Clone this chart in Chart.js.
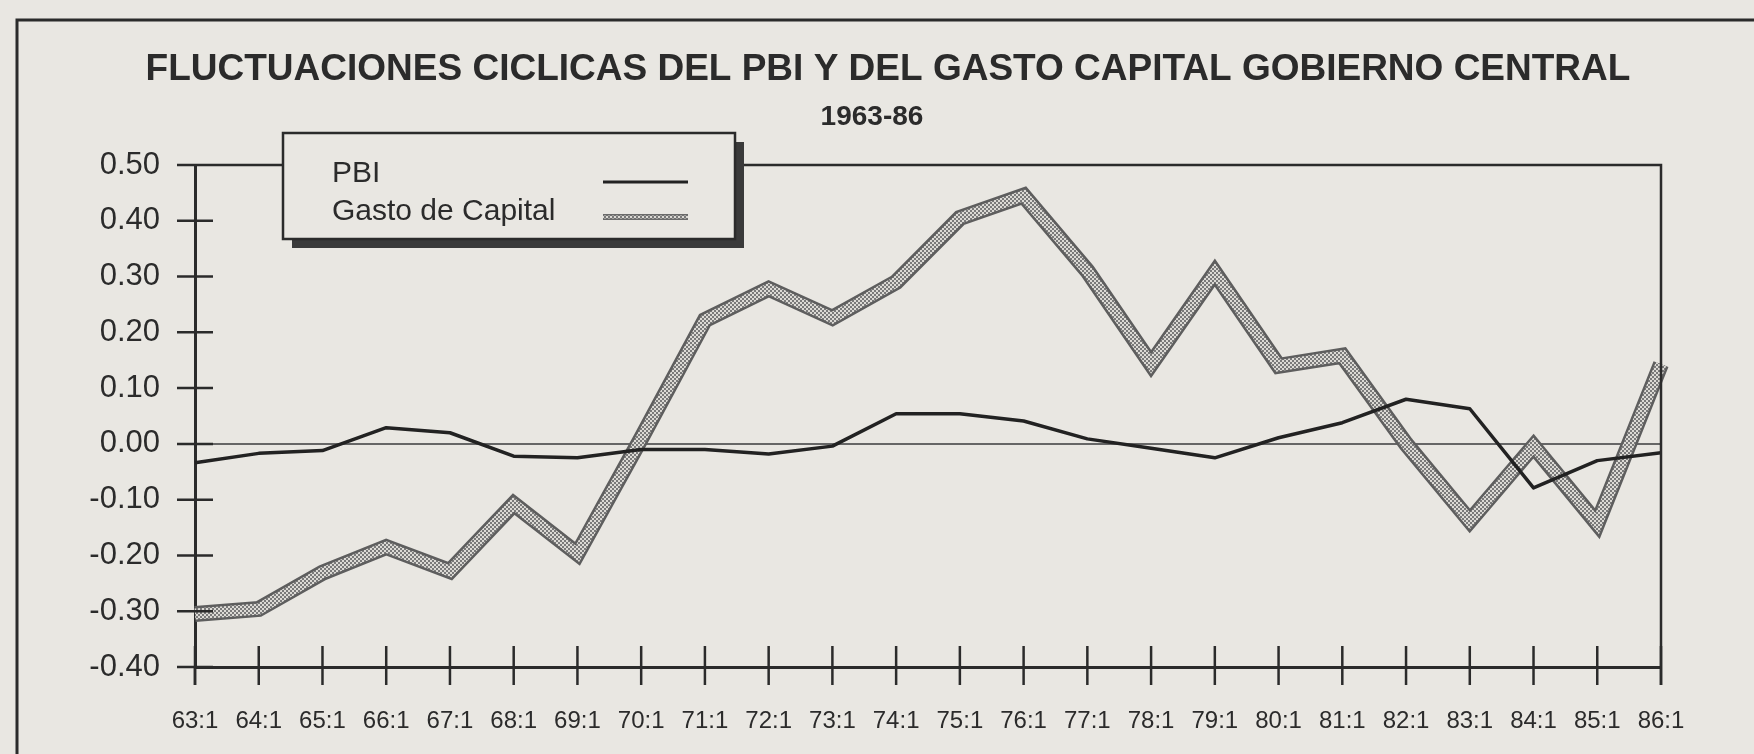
<!DOCTYPE html>
<html>
<head>
<meta charset="utf-8">
<script src="https://cdn.jsdelivr.net/npm/chart.js@4/dist/chart.umd.min.js"></script>
<style>
  html, body { margin: 0; padding: 0; background: #e9e7e2; }
  canvas { display: block; }
</style>
</head>
<body>
<canvas id="ciclos" width="1754" height="754"></canvas>
<script>
// datos (valores anuales, primer trimestre)
const periodos = ['63:1', '64:1', '65:1', '66:1', '67:1', '68:1', '69:1', '70:1', '71:1', '72:1', '73:1', '74:1',
                  '75:1', '76:1', '77:1', '78:1', '79:1', '80:1', '81:1', '82:1', '83:1', '84:1', '85:1', '86:1'];
const pbi = [-0.034, -0.017, -0.012, 0.029, 0.020, -0.022, -0.025, -0.010, -0.010, -0.018, -0.004, 0.054,
             0.054, 0.041, 0.009, -0.008, -0.025, 0.011, 0.038, 0.080, 0.063, -0.079, -0.030, -0.016];
const gastoCapital = [-0.305, -0.296, -0.231, -0.185, -0.228, -0.108, -0.197, 0.010, 0.222, 0.278, 0.226, 0.290,
                      0.405, 0.445, 0.310, 0.143, 0.307, 0.140, 0.158, 0.000, -0.138, -0.004, -0.143, 0.143];
const yMin = -0.4, yMax = 0.5, yStep = 0.1;
const titulo = 'FLUCTUACIONES CICLICAS DEL PBI Y DEL GASTO CAPITAL GOBIERNO CENTRAL';
const subtitulo = '1963-86';

const PAPER = '#e9e7e2';
const INK = '#2b2b2b';
const SANS = '"Liberation Sans", Arial, Helvetica, sans-serif';

const ctx = document.getElementById('ciclos').getContext('2d');

// trama cuadriculada gris para la linea del gasto
function trama() {
    const c = document.createElement('canvas');
    c.width = 4; c.height = 4;
    const g = c.getContext('2d');
    g.fillStyle = '#dcdad5';
    g.fillRect(0, 0, 4, 4);
    g.fillStyle = '#7a7a7a';
    g.fillRect(0, 0, 2, 2);
    g.fillRect(2, 2, 2, 2);
    return ctx.createPattern(c, 'repeat');
}
const gastoTrama = trama();

// contorno oscuro de la banda del gasto, sobre los puntos que calcula la escala
const contorno = {
    id: 'contorno',
    beforeDatasetDraw(chart, args) {
        if (args.index !== 1) return;
        const pts = args.meta.data;
        const c = chart.ctx;
        c.save();
        c.strokeStyle = '#5e5e5e';
        c.lineWidth = 16;
        c.lineJoin = 'miter';
        c.beginPath();
        pts.forEach((p, i) => i ? c.lineTo(p.x, p.y) : c.moveTo(p.x, p.y));
        c.stroke();
        c.restore();
    }
};

const marco = {
    id: 'marco',
    beforeDraw(chart) {
        const c = chart.ctx;
        c.save();
        c.fillStyle = PAPER;
        c.fillRect(0, 0, chart.width, chart.height);
        c.restore();
    },
    afterDraw(chart) {
        const c = chart.ctx, a = chart.chartArea;
        const x = chart.scales.x, y = chart.scales.y;
        c.save();
        c.strokeStyle = INK;
        c.lineCap = 'butt';

        // marco exterior
        c.lineWidth = 3;
        c.beginPath();
        c.moveTo(17, chart.height);
        c.lineTo(17, 20);
        c.lineTo(chart.width, 20);
        c.stroke();

        // titulo y subtitulo
        c.fillStyle = INK;
        c.textAlign = 'center';
        c.textBaseline = 'middle';
        c.font = 'bold 37px ' + SANS;
        c.fillText(titulo, 888, 70);
        c.font = 'bold 28px ' + SANS;
        c.fillText(subtitulo, 872, 117);
        c.textAlign = 'left';

        // caja del area de trazado
        c.lineWidth = 2.5;
        c.beginPath();
        c.moveTo(a.left, a.top);
        c.lineTo(a.right, a.top);
        c.lineTo(a.right, a.bottom + 18);
        c.moveTo(a.left, a.bottom);
        c.lineTo(a.left, a.bottom + 18);
        c.stroke();

        // marcas del eje y (cruzan el eje)
        y.ticks.forEach(t => {
            const py = y.getPixelForValue(t.value);
            const top = Math.abs(t.value - yMax) < 1e-9;
            c.beginPath();
            c.moveTo(a.left - 18, py);
            c.lineTo(top ? a.left : a.left + 18, py);
            c.stroke();
        });

        // marcas del eje x
        x.ticks.forEach((t, i) => {
            const px = x.getPixelForTick(i);
            c.beginPath();
            c.moveTo(px, a.bottom - 21);
            c.lineTo(px, a.bottom + 18);
            c.stroke();
        });

        // leyenda con sombra
        const L = { x: 283, y: 133, w: 452, h: 106 };
        c.fillStyle = '#3a3a3a';
        c.fillRect(L.x + 9, L.y + 9, L.w, L.h);
        c.fillStyle = PAPER;
        c.fillRect(L.x, L.y, L.w, L.h);
        c.lineWidth = 2.5;
        c.strokeRect(L.x, L.y, L.w, L.h);

        const ds = chart.data.datasets;
        c.font = '30px ' + SANS;
        c.fillStyle = INK;
        c.fillText(ds[0].label, 332, 174);
        c.fillText(ds[1].label, 332, 212);

        c.lineWidth = 3;
        c.strokeStyle = ds[0].borderColor;
        c.beginPath(); c.moveTo(603, 182); c.lineTo(688, 182); c.stroke();
        c.lineWidth = 6;
        c.strokeStyle = '#6a6a6a';
        c.beginPath(); c.moveTo(603, 217); c.lineTo(688, 217); c.stroke();
        c.lineWidth = 3;
        c.strokeStyle = ds[1].borderColor;
        c.beginPath(); c.moveTo(603, 217); c.lineTo(688, 217); c.stroke();
        c.restore();
    }
};

const chart = new Chart(ctx, {
    type: 'line',
    data: {
        labels: periodos,
        datasets: [{
            label: 'PBI',
            data: pbi,
            borderColor: '#222222',
            borderWidth: 3.5,
            borderJoinStyle: 'round',
            pointRadius: 0,
            tension: 0
        }, {
            label: 'Gasto de Capital',
            data: gastoCapital,
            borderColor: gastoTrama,
            borderWidth: 11,
            borderJoinStyle: 'miter',
            pointRadius: 0,
            tension: 0
        }]
    },
    options: {
        responsive: false,
        animation: false,
        layout: { padding: { left: 0, right: 93, top: 165, bottom: 0 } },
        plugins: {
            legend: { display: false },
            tooltip: { enabled: false },
            title: { display: false },
            subtitle: { display: false }
        },
        scales: {
            x: {
                offset: false,
                grid: { display: true, drawTicks: false, color: 'rgba(0,0,0,0)' },
                border: { display: true, color: INK, width: 3 },
                ticks: {
                    autoSkip: false,
                    maxRotation: 0,
                    padding: 40,
                    color: INK,
                    font: { family: SANS, size: 24 }
                },
                afterFit: s => { s.height = 87; }
            },
            y: {
                min: yMin,
                max: yMax,
                grid: {
                    drawTicks: false,
                    lineWidth: 2,
                    color: c => (c.tick && Math.abs(c.tick.value) < 1e-9) ? '#666666' : 'rgba(0,0,0,0)'
                },
                border: { display: true, color: INK, width: 3 },
                ticks: {
                    stepSize: yStep,
                    padding: 35,
                    color: INK,
                    font: { family: SANS, size: 31 },
                    callback: v => v.toFixed(2)
                },
                afterFit: s => { s.width = 195; }
            }
        }
    },
    plugins: [contorno, marco]
});
</script>
</body>
</html>
